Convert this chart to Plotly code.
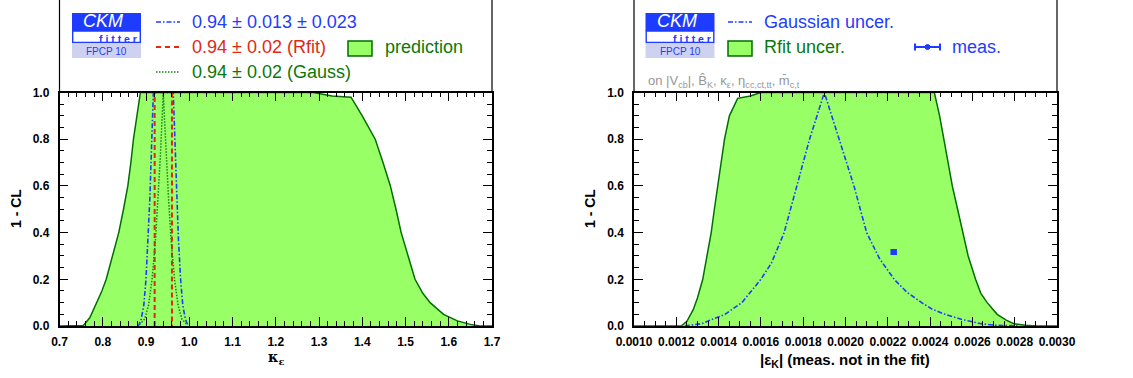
import plotly.graph_objects as go

# ---------------- data ----------------
# Left panel: kappa_epsilon
kappa_pred = [0.70, 0.74, 0.755, 0.77, 0.786, 0.798, 0.808, 0.823, 0.837, 0.848, 0.858, 0.865,
              0.871, 0.879, 0.887, 1.10, 1.287, 1.330, 1.374, 1.400, 1.430, 1.448, 1.465, 1.478,
              1.490, 1.506, 1.522, 1.540, 1.557, 1.588, 1.620, 1.650, 1.672, 1.70]
cl_pred = [0.0, 0.0, 0.002, 0.035, 0.10, 0.15, 0.20, 0.30, 0.40, 0.50, 0.60, 0.70,
           0.80, 0.90, 1.0, 1.0, 1.0, 0.985, 0.98, 0.90, 0.80, 0.70, 0.60, 0.50,
           0.40, 0.30, 0.20, 0.14, 0.10, 0.05, 0.022, 0.007, 0.0, 0.0]

kappa_gunc = [0.880, 0.884, 0.889, 0.895, 0.900, 0.905, 0.909, 0.912, 0.915, 0.917,
              0.963, 0.965, 0.968, 0.971, 0.975, 0.980, 0.985, 0.991, 0.996, 1.000]
cl_gunc = [0.0, 0.006, 0.03, 0.09, 0.20, 0.37, 0.55, 0.72, 0.88, 1.0,
           1.0, 0.88, 0.72, 0.55, 0.37, 0.20, 0.09, 0.03, 0.006, 0.0]

kappa_rfit = [0.92, 0.96]

kappa_gauss = [0.885, 0.897, 0.906, 0.914, 0.922, 0.928, 0.933, 0.937, 0.940,
               0.943, 0.947, 0.952, 0.958, 0.966, 0.974, 0.983, 0.995]
cl_gauss = [0.006, 0.03, 0.09, 0.20, 0.37, 0.55, 0.72, 0.88, 1.0,
            0.88, 0.72, 0.55, 0.37, 0.20, 0.09, 0.03, 0.006]

# Right panel: |epsilon_K|
eps_rfit = [0.0010, 0.00120, 0.001223, 0.00125, 0.00128, 0.00130, 0.001325, 0.001345, 0.001365,
            0.00138, 0.001396, 0.001412, 0.001428, 0.001451, 0.00149, 0.00155, 0.00160, 0.00242,
            0.002445, 0.002465, 0.002485, 0.002505, 0.00253, 0.002555, 0.00258, 0.002615,
            0.00264, 0.00267, 0.002717, 0.00276, 0.002796, 0.00285, 0.002906, 0.0030]
cl_eps_rfit = [0.0, 0.0, 0.0, 0.02, 0.07, 0.12, 0.20, 0.30, 0.40,
               0.50, 0.60, 0.70, 0.80, 0.90, 0.975, 0.985, 1.0, 1.0,
               0.90, 0.80, 0.70, 0.60, 0.50, 0.40, 0.30, 0.20,
               0.14, 0.10, 0.05, 0.025, 0.01, 0.003, 0.0, 0.0]

eps_gauss = [0.00124, 0.00126, 0.00132, 0.00143, 0.00151, 0.00160, 0.00165, 0.00171, 0.00174,
             0.00177, 0.00183, 0.00190, 0.00197, 0.00204, 0.00207, 0.00210, 0.00216, 0.00223,
             0.00229, 0.00236, 0.00241, 0.00247, 0.00255, 0.00264, 0.00270, 0.00276, 0.00282]
cl_eps_gauss = [0.0, 0.002, 0.01, 0.05, 0.10, 0.20, 0.27, 0.40, 0.50,
                0.60, 0.80, 1.0, 0.80, 0.60, 0.50, 0.40, 0.29, 0.20,
                0.145, 0.10, 0.072, 0.05, 0.028, 0.01, 0.004, 0.001, 0.0]

meas_eps = [0.002228]
meas_cl = [0.3173]
meas_err = [0.000011]

# ---------------- style ----------------
W, H = 1133, 378
BLUE = "rgb(30,60,255)"
RED = "rgb(225,40,20)"
DGREEN = "rgb(0,110,0)"
TGREEN = "rgb(10,120,10)"
FILL = "rgb(153,255,102)"
DOTG = "rgb(20,135,20)"
LAV = "rgb(206,210,240)"
FONT = "Liberation Sans, Arial, sans-serif"
DASHDOT = "5px,2px,1.5px,2px"
DOTS = "1.5px,1.5px"


def fx(x):
    return x / W


def fy(y):
    return 1 - y / H


L0, L1 = 59.5, 492.0
R0, R1 = 634.0, 1057.0
T, B = 92.5, 326.0

fig = go.Figure()

# left panel traces
fig.add_trace(go.Scatter(x=kappa_pred, y=cl_pred, mode="lines", fill="tozeroy",
                         fillcolor=FILL, line=dict(color=DGREEN, width=1.5),
                         xaxis="x", yaxis="y", showlegend=False))
fig.add_trace(go.Scatter(x=kappa_gunc, y=cl_gunc, mode="lines",
                         line=dict(color=BLUE, width=1.6, dash=DASHDOT),
                         xaxis="x", yaxis="y", showlegend=False))
rx = [kappa_rfit[0], kappa_rfit[0], None, kappa_rfit[1], kappa_rfit[1]]
ry = [0, 1, None, 1, 0]
fig.add_trace(go.Scatter(x=rx, y=ry, mode="lines",
                         line=dict(color=RED, width=2, dash="5px,3px"),
                         xaxis="x", yaxis="y", showlegend=False))
fig.add_trace(go.Scatter(x=kappa_gauss, y=cl_gauss, mode="lines",
                         line=dict(color=DOTG, width=1.5, dash=DOTS),
                         xaxis="x", yaxis="y", showlegend=False))

# right panel traces
fig.add_trace(go.Scatter(x=eps_rfit, y=cl_eps_rfit, mode="lines", fill="tozeroy",
                         fillcolor=FILL, line=dict(color=DGREEN, width=1.5),
                         xaxis="x2", yaxis="y2", showlegend=False))
fig.add_trace(go.Scatter(x=eps_gauss, y=cl_eps_gauss, mode="lines",
                         line=dict(color=BLUE, width=1.6, dash=DASHDOT),
                         xaxis="x2", yaxis="y2", showlegend=False))
fig.add_trace(go.Scatter(x=meas_eps, y=meas_cl, mode="markers",
                         marker=dict(symbol="square", size=6, color=BLUE),
                         error_x=dict(type="data", array=meas_err, color=BLUE, thickness=1.5, width=3),
                         xaxis="x2", yaxis="y2", showlegend=False))

axis_common = dict(
    showline=True, linecolor="black", linewidth=1.5, mirror="allticks",
    ticks="inside", ticklen=9, tickwidth=1.2, tickcolor="black",
    showgrid=False, zeroline=False, automargin=False,
    tickfont=dict(family=FONT, size=12, color="black", weight="bold"),
    layer="above traces",
)

fig.update_layout(
    width=W, height=H,
    margin=dict(l=0, r=0, t=0, b=0, autoexpand=False),
    paper_bgcolor="white", plot_bgcolor="white",
    xaxis=dict(domain=[fx(L0), fx(L1)], range=[0.7, 1.7], anchor="y",
               tick0=0.7, dtick=0.1, tickformat=".1f", ticklabelstandoff=4,
               minor=dict(ticks="inside", ticklen=5, tickwidth=1, tickcolor="black", dtick=0.02, showgrid=False),
               **axis_common),
    yaxis=dict(domain=[fy(B), fy(T)], range=[0, 1], anchor="x",
               tick0=0, dtick=0.2, tickformat=".1f", ticklabelstandoff=6,
               minor=dict(ticks="inside", ticklen=5, tickwidth=1, tickcolor="black", dtick=0.05, showgrid=False),
               **axis_common),
    xaxis2=dict(domain=[fx(R0), fx(R1)], range=[0.001, 0.003], anchor="y2",
                tick0=0.001, dtick=0.0002, tickformat=".4f", ticklabelstandoff=4,
                minor=dict(ticks="inside", ticklen=5, tickwidth=1, tickcolor="black", dtick=0.00005, showgrid=False),
                **axis_common),
    yaxis2=dict(domain=[fy(B), fy(T)], range=[0, 1], anchor="x2",
                tick0=0, dtick=0.2, tickformat=".1f", ticklabelstandoff=6,
                minor=dict(ticks="inside", ticklen=5, tickwidth=1, tickcolor="black", dtick=0.05, showgrid=False),
                **axis_common),
)

shapes = []
annotations = []

# frame above plot boxes (legend area)
for x in (L0, L1, R0, R1):
    shapes.append(dict(type="line", xref="paper", yref="paper", x0=fx(x), x1=fx(x),
                       y0=fy(T), y1=fy(-5), line=dict(color="black", width=1.2)))


def ann(x, y, text, size=18, color="black", xanchor="left", yanchor="middle", family=FONT, angle=0):
    annotations.append(dict(xref="paper", yref="paper", x=fx(x), y=fy(y), text=text,
                            showarrow=False, xanchor=xanchor, yanchor=yanchor, textangle=angle,
                            font=dict(family=family, size=size, color=color),
                            borderpad=0))


def logo(x0):
    x1 = x0 + 69
    shapes.append(dict(type="rect", xref="paper", yref="paper", x0=fx(x0), x1=fx(x1),
                       y0=fy(31), y1=fy(13), fillcolor=BLUE, line=dict(width=0)))
    shapes.append(dict(type="rect", xref="paper", yref="paper", x0=fx(x0 + 0.7), x1=fx(x1 - 0.7),
                       y0=fy(42.5), y1=fy(31), fillcolor="white", line=dict(color=BLUE, width=1.4)))
    shapes.append(dict(type="rect", xref="paper", yref="paper", x0=fx(x0), x1=fx(x1),
                       y0=fy(58), y1=fy(43.5), fillcolor=LAV, line=dict(width=0)))
    ann(x0 + 31, 21, "<i>CKM</i>", size=18, color="white", xanchor="center")
    ann(x1 - 3, 38.5, "<b>f i t t e r</b>", size=10.5, color=BLUE, xanchor="right")
    ann(x0 + 34.5, 51.5, "FPCP 10", size=10, color=BLUE, xanchor="center")


def sample_line(x0, x1, y, color, dash, width):
    shapes.append(dict(type="line", xref="paper", yref="paper", x0=fx(x0), x1=fx(x1),
                       y0=fy(y), y1=fy(y), line=dict(color=color, width=width, dash=dash)))


def sample_box(x0, x1, y0, y1):
    shapes.append(dict(type="rect", xref="paper", yref="paper", x0=fx(x0), x1=fx(x1),
                       y0=fy(y1), y1=fy(y0), fillcolor=FILL, line=dict(color=DGREEN, width=1.5)))


# left legend
logo(72)
sample_line(156, 180, 22, BLUE, DASHDOT, 1.6)
ann(191, 22, "0.94 ± 0.013 ± 0.023", color=BLUE)
sample_line(156, 180, 47, RED, "5px,4px", 1.8)
ann(191, 47, "0.94 ± 0.02 (Rfit)", color=RED)
sample_box(348, 372, 41, 56)
ann(384, 47, "prediction", color=TGREEN)
sample_line(156, 180, 72, DOTG, DOTS, 1.3)
ann(191, 72, "0.94 ± 0.02 (Gauss)", color=TGREEN)

# right legend
logo(645.5)
sample_line(728, 752, 22, BLUE, DASHDOT, 1.6)
ann(763, 22, "Gaussian uncer.", color=BLUE)
sample_box(728, 752, 41, 56)
ann(763, 47, "Rfit uncer.", color=TGREEN)
shapes.append(dict(type="line", xref="paper", yref="paper", x0=fx(915), x1=fx(940),
                   y0=fy(47), y1=fy(47), line=dict(color=BLUE, width=2)))
for xc in (915, 940):
    shapes.append(dict(type="line", xref="paper", yref="paper", x0=fx(xc), x1=fx(xc),
                       y0=fy(43.5), y1=fy(50.5), line=dict(color=BLUE, width=2)))
shapes.append(dict(type="circle", xref="paper", yref="paper", x0=fx(925), x1=fx(930),
                   y0=fy(49.5), y1=fy(44.5), fillcolor=BLUE, line=dict(color=BLUE, width=1)))
ann(951, 47, "meas.", color=BLUE)

# constraint note
ann(647, 81, "on |V<sub>cb</sub>|, B\u0302<sub>K</sub>, κ<sub>ε</sub>, η<sub>cc,ct,tt</sub>, m\u0304<sub>c,t</sub>",
    size=13, color="rgb(150,150,150)")

# axis titles
ann(16, 209, "<b>1 - CL</b>", size=14, xanchor="center", angle=-90)
ann(590, 209, "<b>1 - CL</b>", size=14, xanchor="center", angle=-90)
ann(276, 358, "<b>κ<sub>ε</sub></b>", size=14, xanchor="center", family="DejaVu Serif, serif")
ann(845, 360, "<b>|ε<sub>K</sub>| (meas. not in the fit)</b>", size=15, xanchor="center")

fig.update_layout(shapes=shapes, annotations=annotations)
fig.write_html("out.html")
